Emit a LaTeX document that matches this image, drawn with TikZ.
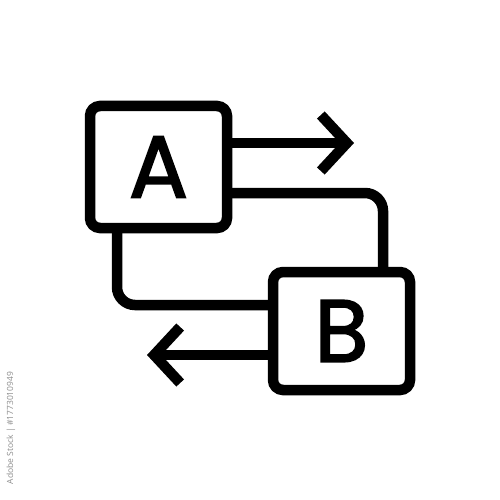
\documentclass[tikz,border=0pt]{standalone}
\usepackage{fontspec}
\setmainfont{Poppins}
\newfontfamily\letterfont[FakeBold=2]{Poppins}
\newfontfamily\wmfont{Open Sans}
\usetikzlibrary{arrows.meta}
\tikzset{
  box/.style={draw=black, line width=10.5pt, rounded corners=10pt, minimum width=137pt, minimum height=122pt, outer sep=0pt, inner sep=0pt, font=\letterfont\fontsize{88}{88}\selectfont},
  wire/.style={draw=black, line width=10.5pt, rounded corners=18pt},
  arr/.style={draw=black, line width=10.5pt, -{Straight Barb[length=26pt,width=56pt,line width=10.5pt]}},
  wm/.style={text=black!45, font=\wmfont\fontsize{8.5}{9}\selectfont}
}
\begin{document}
\begin{tikzpicture}[x=1pt,y=-1pt]
\useasboundingbox (0,0) rectangle (500,500);
\node[box] (A) at (158.5,167) {A};
\node[box, minimum height=118pt] (B) at (341.5,331) {B};
\coordinate (t1) at (354,143);
\coordinate (c1) at (383,193);
\coordinate (c2) at (117,305);
\coordinate (t2) at (147,355);
\draw[arr] (A.east |- t1) -- (t1);
\draw[wire] (A.east |- c1) -| (B.north -| c1);
\draw[wire] (A.south -| c2) |- (B.west |- c2);
\draw[arr] (B.west |- t2) -- (t2);
\node[wm, rotate=90] (w) at (11,428) {Adobe Stock | \#1773010949};
\end{tikzpicture}
\end{document}
